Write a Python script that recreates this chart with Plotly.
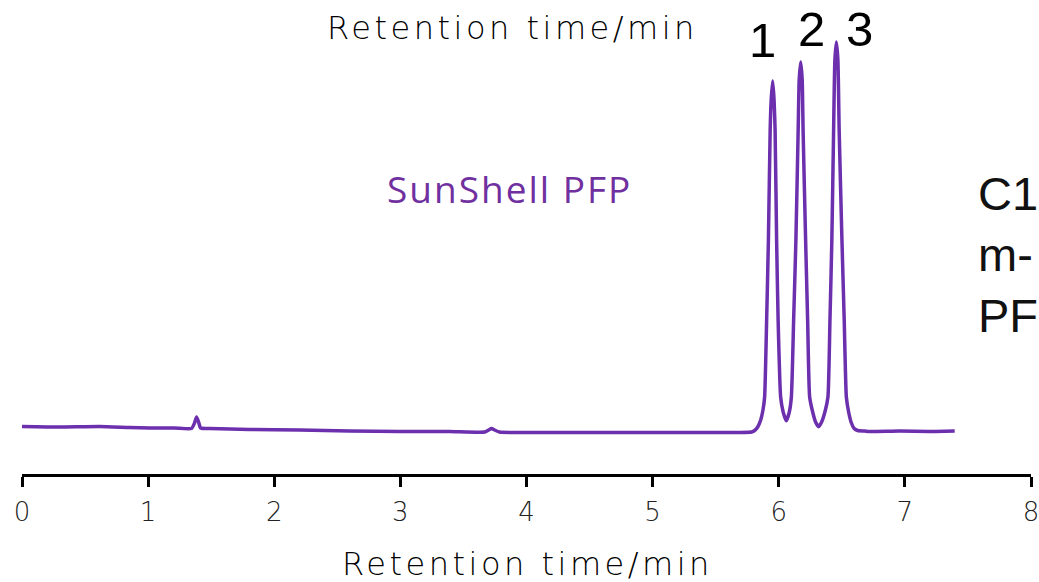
import plotly.graph_objects as go

# ---- data (time in min, detector signal in arbitrary units) ----
time_min = [
    0.000, 0.297, 0.615, 0.853, 1.011, 1.209, 1.344, 1.368, 1.384, 1.400, 1.416, 1.487,
    1.804, 2.201, 2.597, 2.994, 3.390, 3.668, 3.699, 3.723, 3.747, 3.786, 4.183, 4.580,
    4.976, 5.373, 5.690, 5.785, 5.809, 5.833, 5.857, 5.875, 5.888, 5.904, 5.918, 5.932,
    5.940, 5.952, 5.963, 5.971, 5.983, 5.995, 6.015, 6.035, 6.060, 6.082, 6.100, 6.118,
    6.136, 6.154, 6.162, 6.174, 6.186, 6.193, 6.213, 6.229, 6.245, 6.269, 6.292, 6.316,
    6.340, 6.368, 6.390, 6.406, 6.421, 6.435, 6.445, 6.457, 6.469, 6.479, 6.501, 6.519,
    6.536, 6.554, 6.576, 6.598, 6.626, 6.681, 6.721, 6.959, 7.196, 7.395,
]
signal = [
    47.5, 47.0, 47.5, 46.5, 46.0, 46.0, 45.5, 51.0, 57.0, 52.0, 46.0, 45.5,
    44.5, 44.0, 43.0, 42.5, 42.5, 42.0, 44.0, 45.5, 44.0, 42.0, 41.5, 41.5,
    41.5, 41.5, 41.5, 42.0, 43.5, 47.0, 54.0, 64.0, 77.0, 154.0, 234.0, 344.0,
    374.0, 393.0, 374.0, 344.0, 234.0, 154.0, 77.0, 62.0, 53.3, 61.0, 77.0, 154.0,
    234.0, 344.0, 394.0, 412.0, 394.0, 344.0, 234.0, 154.0, 77.0, 62.0, 52.0, 47.3,
    52.0, 63.0, 77.0, 154.0, 234.0, 344.0, 414.0, 432.0, 414.0, 344.0, 234.0, 154.0,
    77.0, 62.0, 51.0, 45.5, 43.5, 43.0, 42.5, 43.0, 42.5, 43.0,
]
tick_values = [0, 1, 2, 3, 4, 5, 6, 7, 8]
tick_labels = ["0", "1", "2", "3", "4", "5", "6", "7", "8"]
peak_labels = ["1", "2", "3"]
axis_title = "Retention time/min"
column_name = "SunShell PFP"
side_text = ["C1", "m-", "PF"]

W, H = 1039, 582
ML, MR, MT, MB = 22, 8, 0, 108
PW, PH = W - ML - MR, H - MT - MB


def fx(px):
    return (px - ML) / PW


def fy(py):
    return (MT + PH - py) / PH


TEXT_FONT = "DejaVu Sans"
PURPLE_LINE = "#6C2FAD"

fig = go.Figure()
fig.add_trace(go.Scatter(
    x=time_min, y=signal, mode="lines",
    line=dict(color=PURPLE_LINE, width=3.5, shape="spline", smoothing=0.5),
    hoverinfo="skip", showlegend=False,
))

annotations = []
# titles (top one appears above the chart too)
for py, cx in [(28, 512.5), (564, 527)]:
    annotations.append(dict(
        x=fx(cx), y=fy(py), xref="paper", yref="paper", xanchor="center", yanchor="middle",
        text='<span style="letter-spacing:3.5px">' + axis_title + "</span>",
        showarrow=False, font=dict(family=TEXT_FONT, size=32, color="#000", weight=200),
    ))
# peak numbers
for lab, (cx, cy) in zip(peak_labels, [(762, 40), (811, 29), (859, 29)]):
    annotations.append(dict(
        x=fx(cx), y=fy(cy), xref="paper", yref="paper", xanchor="center", yanchor="middle",
        text=lab, showarrow=False,
        font=dict(family="Liberation Sans", size=49, color="#000"),
    ))
# column name
annotations.append(dict(
    x=fx(509), y=fy(188), xref="paper", yref="paper", xanchor="center", yanchor="middle",
    text='<span style="letter-spacing:2px">' + column_name + "</span>",
    showarrow=False, font=dict(family="Open Sans", size=37, color="#7030A0"),
))
# side text (cropped at the right edge in the original)
annotations.append(dict(
    x=fx(976), y=fy(254), xref="paper", yref="paper", xanchor="left", yanchor="middle",
    align="left", text="<br>".join(side_text), showarrow=False,
    font=dict(family="Liberation Sans", size=47, color="#111"),
))

fig.update_layout(
    width=W, height=H,
    margin=dict(l=ML, r=MR, t=MT, b=MB, pad=0),
    paper_bgcolor="white", plot_bgcolor="white",
    xaxis=dict(
        range=[0, 8], showgrid=False, zeroline=False,
        showline=True, linecolor="black", linewidth=2.5,
        ticks="outside", ticklen=10, tickwidth=2.5, tickcolor="black",
        tickvals=tick_values, ticktext=tick_labels,
        ticklabeloverflow="allow", ticklabelstandoff=3,
        tickfont=dict(family=TEXT_FONT, size=26, color="#222", weight=200),
        fixedrange=True,
    ),
    yaxis=dict(range=[0, PH], visible=False, fixedrange=True),
    annotations=annotations,
    showlegend=False,
)

fig.write_html("out.html")
